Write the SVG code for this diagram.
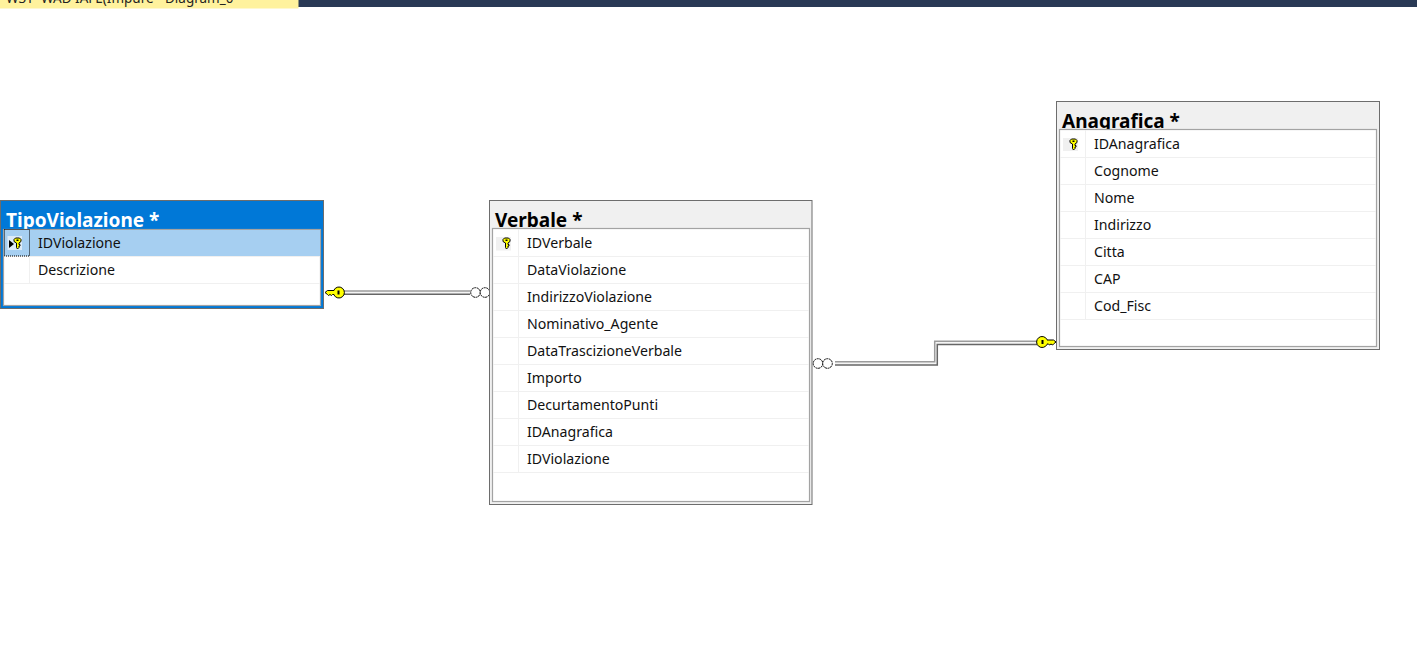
<svg xmlns="http://www.w3.org/2000/svg" width="1417" height="668" viewBox="0 0 1417 668">
<style>
text{font-family:"Noto Sans","Open Sans","Liberation Sans",sans-serif}
.f{font-size:14.15px;fill:#111}
.t{font-size:19px;font-weight:700;fill:#000}
.ow{fill:#f0f0f0;stroke:#6d6d6d;stroke-width:1}
.in{fill:#fff;stroke:#a3a3a3;stroke-width:1.2}
.sep{stroke:#f0f0f0;stroke-width:1;fill:none}
.g{fill:none;stroke:#9b9b9b;stroke-width:1.5}
.w{fill:none;stroke:#f4f4f4;stroke-width:2.5}
.d{fill:none;stroke:#666;stroke-width:1.5}
.inf{fill:#fff;stroke:#000;stroke-width:1;stroke-dasharray:2 .6}
.hk{fill:#f0f0f0}
</style>
<defs>
<g id="keyL">
<path d="M0 0 L2.500 -2 H9 V-2.500 A5.500 5.500 0 1 1 9 2.500 V2 H7.500 L6.500 3 L5 2 L3.500 3 L2.500 2 Z" fill="#ffff00" stroke="#000" stroke-width="1"/>
<rect x="12.500" y="-2" width="2" height="4" fill="#000"/>
</g>
<g id="keyS">
<path d="M-3.500 -4 L-2 -5.500 H2 L3.500 -4 V-2 L1.500 -.5 V1 H2.500 V2.500 H1.500 V4 L0 5.500 L-1 4 V-.5 L-3.500 -2 Z" fill="#ffff00" stroke="#000" stroke-width="1"/>
<rect x="-1" y="-4" width="2" height="1.500" fill="#000"/>
</g>
<clipPath id="strip"><rect x="0" y="0" width="298" height="8"/></clipPath>
</defs>

<g id="topbar">
<rect x="0" y="0" width="1417" height="7" fill="#293955"/>
<rect x="0" y="0" width="298.500" height="8.500" fill="#fff29d"/>
<text x="6" y="3" font-size="13.500" fill="#222" clip-path="url(#strip)">W3T- WAD IAFE(Impure - Diagram_0</text>
</g>

<g id="connectors">
<g id="conn-tipo-verbale">
<path class="w" d="M344 292.500H470"/>
<path class="g" d="M344 291H470"/>
<path class="d" d="M344 294.300H470"/>
</g>
<g id="conn-verbale-anagrafica">
<path class="w" d="M835 363.300H936V343H1037"/>
<path class="g" d="M835 361.700H934.700V341.200H1037"/>
<path class="d" d="M835 365H937.300V344.500H1037"/>
</g>
<use href="#keyL" x="325" y="292.500"/>
<circle class="inf" cx="475.500" cy="292.500" r="4.800"/>
<circle class="inf" cx="485" cy="292.500" r="4.800"/>
<use href="#keyL" transform="translate(1056 342) scale(-1 1)"/>
<circle class="inf" cx="818" cy="363.500" r="4.800"/>
<circle class="inf" cx="827.500" cy="363.500" r="4.800"/>
</g>

<g id="node-tipoviolazione">
<rect x=".5" y="200.500" width="323" height="108" fill="#0078d7" stroke="#6d6d6d"/>
<text class="t" x="6" y="226.500" style="fill:#fff">TipoViolazione *</text>
<rect class="in" x="3.500" y="229.500" width="317" height="76"/>
<rect x="4" y="230" width="316" height="26.500" fill="#a6cff1"/>
<path class="sep" d="M4 283.500H320M4 256.500H320M29.500 257V283"/>
<rect x="4.500" y="229.500" width="25" height="26.500" fill="none" stroke="#000" stroke-dasharray="1 1"/>
<rect x="7.500" y="236" width="14.500" height="14" fill="#dcebf8"/>
<path d="M9 240L14 244L9 248Z" fill="#000"/>
<use href="#keyS" x="17.500" y="243.500"/>
<text class="f" x="38" y="248">IDViolazione</text>
<text class="f" x="38" y="275">Descrizione</text>
</g>

<g id="node-verbale">
<rect class="ow" x="489.500" y="200.500" width="322.500" height="304"/>
<text class="t" x="495" y="226.500">Verbale *</text>
<rect class="in" x="492.500" y="228.500" width="317" height="273"/>
<path class="sep" d="M493 256.500H809M493 283.500H809M493 310.500H809M493 337.500H809M493 364.500H809M493 391.500H809M493 418.500H809M493 445.500H809M493 472.500H809M518.500 229V472"/>
<rect class="hk" x="496" y="237" width="15" height="13.500"/>
<use href="#keyS" x="506.500" y="243.500"/>
<text class="f" x="527" y="248">IDVerbale</text>
<text class="f" x="527" y="275">DataViolazione</text>
<text class="f" x="527" y="302">IndirizzoViolazione</text>
<text class="f" x="527" y="329">Nominativo_Agente</text>
<text class="f" x="527" y="356">DataTrascizioneVerbale</text>
<text class="f" x="527" y="383">Importo</text>
<text class="f" x="527" y="410">DecurtamentoPunti</text>
<text class="f" x="527" y="437">IDAnagrafica</text>
<text class="f" x="527" y="464">IDViolazione</text>
</g>

<g id="node-anagrafica">
<rect class="ow" x="1056.500" y="101.500" width="323" height="248"/>
<text class="t" x="1062" y="127.500">Anagrafica *</text>
<rect class="in" x="1059.500" y="129.500" width="317" height="217"/>
<path class="sep" d="M1060 157.500H1376M1060 184.500H1376M1060 211.500H1376M1060 238.500H1376M1060 265.500H1376M1060 292.500H1376M1060 319.500H1376M1085.500 130V319"/>
<rect class="hk" x="1063" y="138" width="15" height="13"/>
<use href="#keyS" x="1073.500" y="144.500"/>
<text class="f" x="1094" y="149">IDAnagrafica</text>
<text class="f" x="1094" y="176">Cognome</text>
<text class="f" x="1094" y="203">Nome</text>
<text class="f" x="1094" y="230">Indirizzo</text>
<text class="f" x="1094" y="257">Citta</text>
<text class="f" x="1094" y="284">CAP</text>
<text class="f" x="1094" y="311">Cod_Fisc</text>
</g>
</svg>
